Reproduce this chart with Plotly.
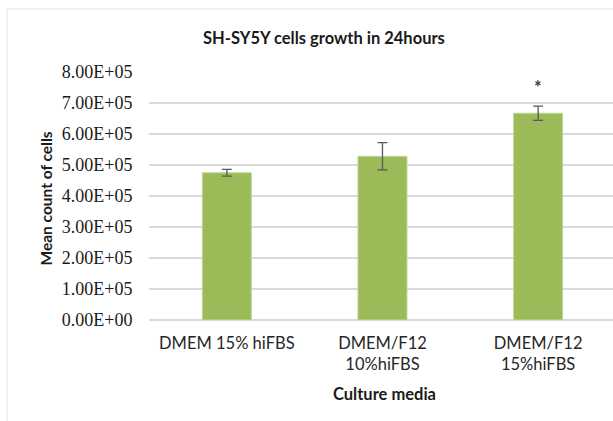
import plotly.graph_objects as go

categories = ["DMEM 15% hiFBS", "DMEM/F12<br>10%hiFBS", "DMEM/F12<br>15%hiFBS"]
means = [4.75e5, 5.28e5, 6.67e5]
errors = [1.1e4, 4.4e4, 2.3e4]
y_ticks = [0, 1e5, 2e5, 3e5, 4e5, 5e5, 6e5, 7e5, 8e5]
y_tick_labels = ["0.00E+00", "1.00E+05", "2.00E+05", "3.00E+05", "4.00E+05",
                 "5.00E+05", "6.00E+05", "7.00E+05", "8.00E+05"]
star_y = 7.53e5
x_pos = list(range(len(categories)))

L, T, W, H = 149, 72, 613, 421
PW, PH = W - L, 248


def px(x):
    return (x - L) / PW


def py(y):
    return (T + PH - y) / PH


fig = go.Figure()
fig.add_trace(go.Bar(
    x=x_pos, y=means, width=0.315,
    marker=dict(color="#9BBB59", line=dict(color="#C3D69B", width=1)),
    error_y=dict(type="data", array=errors, visible=True, color="#595959",
                 thickness=1.3, width=5),
    showlegend=False, hoverinfo="skip",
))

fig.update_layout(
    width=W, height=H,
    margin=dict(l=L, r=0, t=T, b=H - T - PH),
    paper_bgcolor="white", plot_bgcolor="white",
    xaxis=dict(range=[-0.5, 2.481], tickvals=x_pos, ticktext=categories,
               ticks="outside", ticklen=8, tickcolor="rgba(0,0,0,0)",
               showgrid=False, zeroline=False, showline=False,
               tickfont=dict(family="Lato", size=16.5, color="#262626")),
    yaxis=dict(range=[0, 8e5], tickvals=y_ticks, ticktext=y_tick_labels,
               ticks="outside", ticklen=12, tickcolor="rgba(0,0,0,0)",
               showgrid=True, gridcolor="#D9D9D9", gridwidth=1.5,
               zeroline=True, zerolinecolor="#D9D9D9", zerolinewidth=1.5,
               showline=False,
               tickfont=dict(family="Liberation Serif, DejaVu Serif, serif", size=18, color="#1a1a1a")),
    font=dict(family="Lato"),
    shapes=[dict(type="rect", xref="paper", yref="paper",
                 x0=px(7), x1=1.2, y0=-0.6, y1=py(9),
                 line=dict(color="#E3E3E3", width=1), layer="below")],
    annotations=[
        dict(text="<b>SH-SY5Y cells growth in 24hours</b>", xref="paper", yref="paper",
             x=px(324), y=py(38), showarrow=False,
             font=dict(family="Lato", size=16.5, color="#1a1a1a"), xanchor="center", yanchor="middle"),
        dict(text="<b>Mean count of cells</b>", xref="paper", yref="paper",
             x=px(45.5), y=py(199), showarrow=False, textangle=-90,
             font=dict(family="Lato", size=15.5, color="#1a1a1a"), xanchor="center", yanchor="middle"),
        dict(text="<b>Culture media</b>", xref="paper", yref="paper",
             x=px(384), y=py(394), showarrow=False,
             font=dict(family="Lato", size=16.5, color="#1a1a1a"), xanchor="center", yanchor="middle"),
        dict(text="<b>*</b>", xref="x", yref="y", x=2, y=star_y, showarrow=False,
             font=dict(family="Lato", size=18, color="#404040"), xanchor="center", yanchor="middle"),
    ],
)

fig.write_html("out.html", config={"displayModeBar": False},
               post_script="document.body.style.margin='0';document.body.style.padding='0';")
